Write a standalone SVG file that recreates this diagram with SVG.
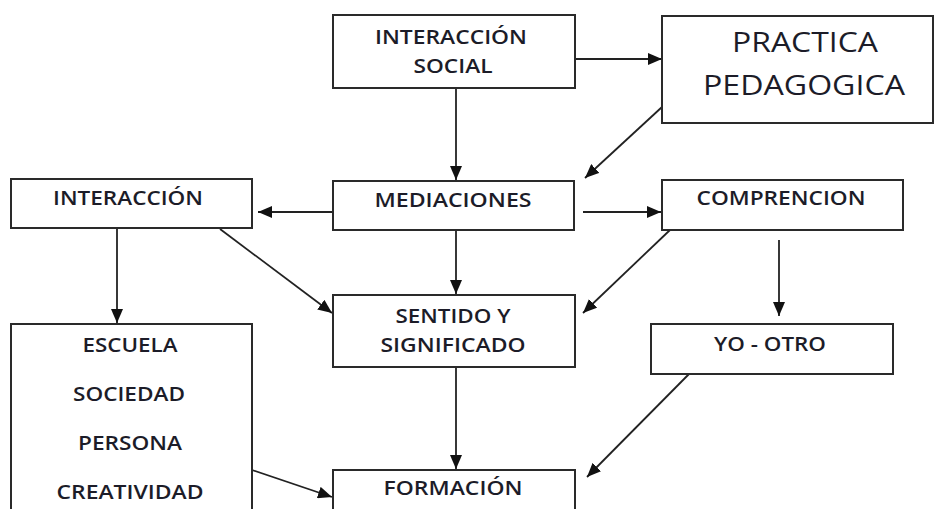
<svg xmlns="http://www.w3.org/2000/svg" width="936" height="509" viewBox="0 0 936 509">
<style>
.box{fill:#fff;stroke:#2a2a2a;stroke-width:2}
.t{font-family:"Open Sans","Liberation Sans",sans-serif;font-size:19.5px;font-weight:600;fill:#1c1c28;text-anchor:middle}
.big{font-size:26.5px;font-weight:500}
.c{stroke:#222;stroke-width:1.8;fill:none;marker-end:url(#ah)}
</style>
<defs>
<marker id="ah" markerUnits="userSpaceOnUse" markerWidth="14" markerHeight="12" viewBox="0 0 14 12" refX="14" refY="6" orient="auto">
<path d="M0,0 L14,6 L0,12 Z" fill="#111"/>
</marker>
</defs>
<rect width="936" height="509" fill="#fff"/>
<g id="connectors">
<line class="c" x1="575" y1="59" x2="662" y2="59"/>
<line class="c" x1="456" y1="88" x2="456" y2="180"/>
<line class="c" x1="662" y1="107" x2="585" y2="178"/>
<line class="c" x1="333" y1="212" x2="258" y2="212"/>
<line class="c" x1="583" y1="212" x2="661" y2="212"/>
<line class="c" x1="117" y1="229" x2="117" y2="323"/>
<line class="c" x1="220" y1="229" x2="332" y2="313"/>
<line class="c" x1="456" y1="230" x2="456" y2="294"/>
<line class="c" x1="670" y1="230" x2="583" y2="313"/>
<line class="c" x1="779" y1="240" x2="779" y2="316"/>
<line class="c" x1="456" y1="367" x2="456" y2="469"/>
<line class="c" x1="690" y1="373" x2="587" y2="477"/>
<line class="c" x1="252" y1="470" x2="332" y2="497"/>
</g>
<g id="interaccion-social">
<rect class="box" x="333" y="15" width="242" height="73"/>
<text class="t" x="451" y="44" textLength="152" lengthAdjust="spacingAndGlyphs">INTERACCIÓN</text>
<text class="t" x="453" y="73" textLength="79" lengthAdjust="spacingAndGlyphs">SOCIAL</text>
</g>
<g id="practica-pedagogica">
<rect class="box" x="662" y="16" width="271" height="107"/>
<text class="t big" x="805" y="52" textLength="146" lengthAdjust="spacingAndGlyphs">PRACTICA</text>
<text class="t big" x="804" y="95" textLength="202" lengthAdjust="spacingAndGlyphs">PEDAGOGICA</text>
</g>
<g id="interaccion">
<rect class="box" x="11" y="179" width="241" height="49"/>
<text class="t" x="128" y="205" textLength="150" lengthAdjust="spacingAndGlyphs">INTERACCIÓN</text>
</g>
<g id="mediaciones">
<rect class="box" x="333" y="181" width="241" height="49"/>
<text class="t" x="453" y="207" textLength="157" lengthAdjust="spacingAndGlyphs">MEDIACIONES</text>
</g>
<g id="comprencion">
<rect class="box" x="662" y="180" width="241" height="50"/>
<text class="t" x="781" y="205" textLength="169" lengthAdjust="spacingAndGlyphs">COMPRENCION</text>
</g>
<g id="sentido">
<rect class="box" x="333" y="295" width="242" height="72"/>
<text class="t" x="453" y="323" textLength="115" lengthAdjust="spacingAndGlyphs">SENTIDO Y</text>
<text class="t" x="453" y="352" textLength="145" lengthAdjust="spacingAndGlyphs">SIGNIFICADO</text>
</g>
<g id="yo-otro">
<rect class="box" x="651" y="324" width="242" height="50"/>
<text class="t" x="770" y="351" textLength="112" lengthAdjust="spacingAndGlyphs">YO - OTRO</text>
</g>
<g id="escuela">
<rect class="box" x="11" y="324" width="241" height="200"/>
<text class="t" x="130" y="352" textLength="95" lengthAdjust="spacingAndGlyphs">ESCUELA</text>
<text class="t" x="129" y="401" textLength="112" lengthAdjust="spacingAndGlyphs">SOCIEDAD</text>
<text class="t" x="130" y="450" textLength="104" lengthAdjust="spacingAndGlyphs">PERSONA</text>
<text class="t" x="130" y="499" textLength="147" lengthAdjust="spacingAndGlyphs">CREATIVIDAD</text>
</g>
<g id="formacion">
<rect class="box" x="333" y="470" width="242" height="60"/>
<text class="t" x="453" y="495" textLength="139" lengthAdjust="spacingAndGlyphs">FORMACIÓN</text>
</g>
</svg>
